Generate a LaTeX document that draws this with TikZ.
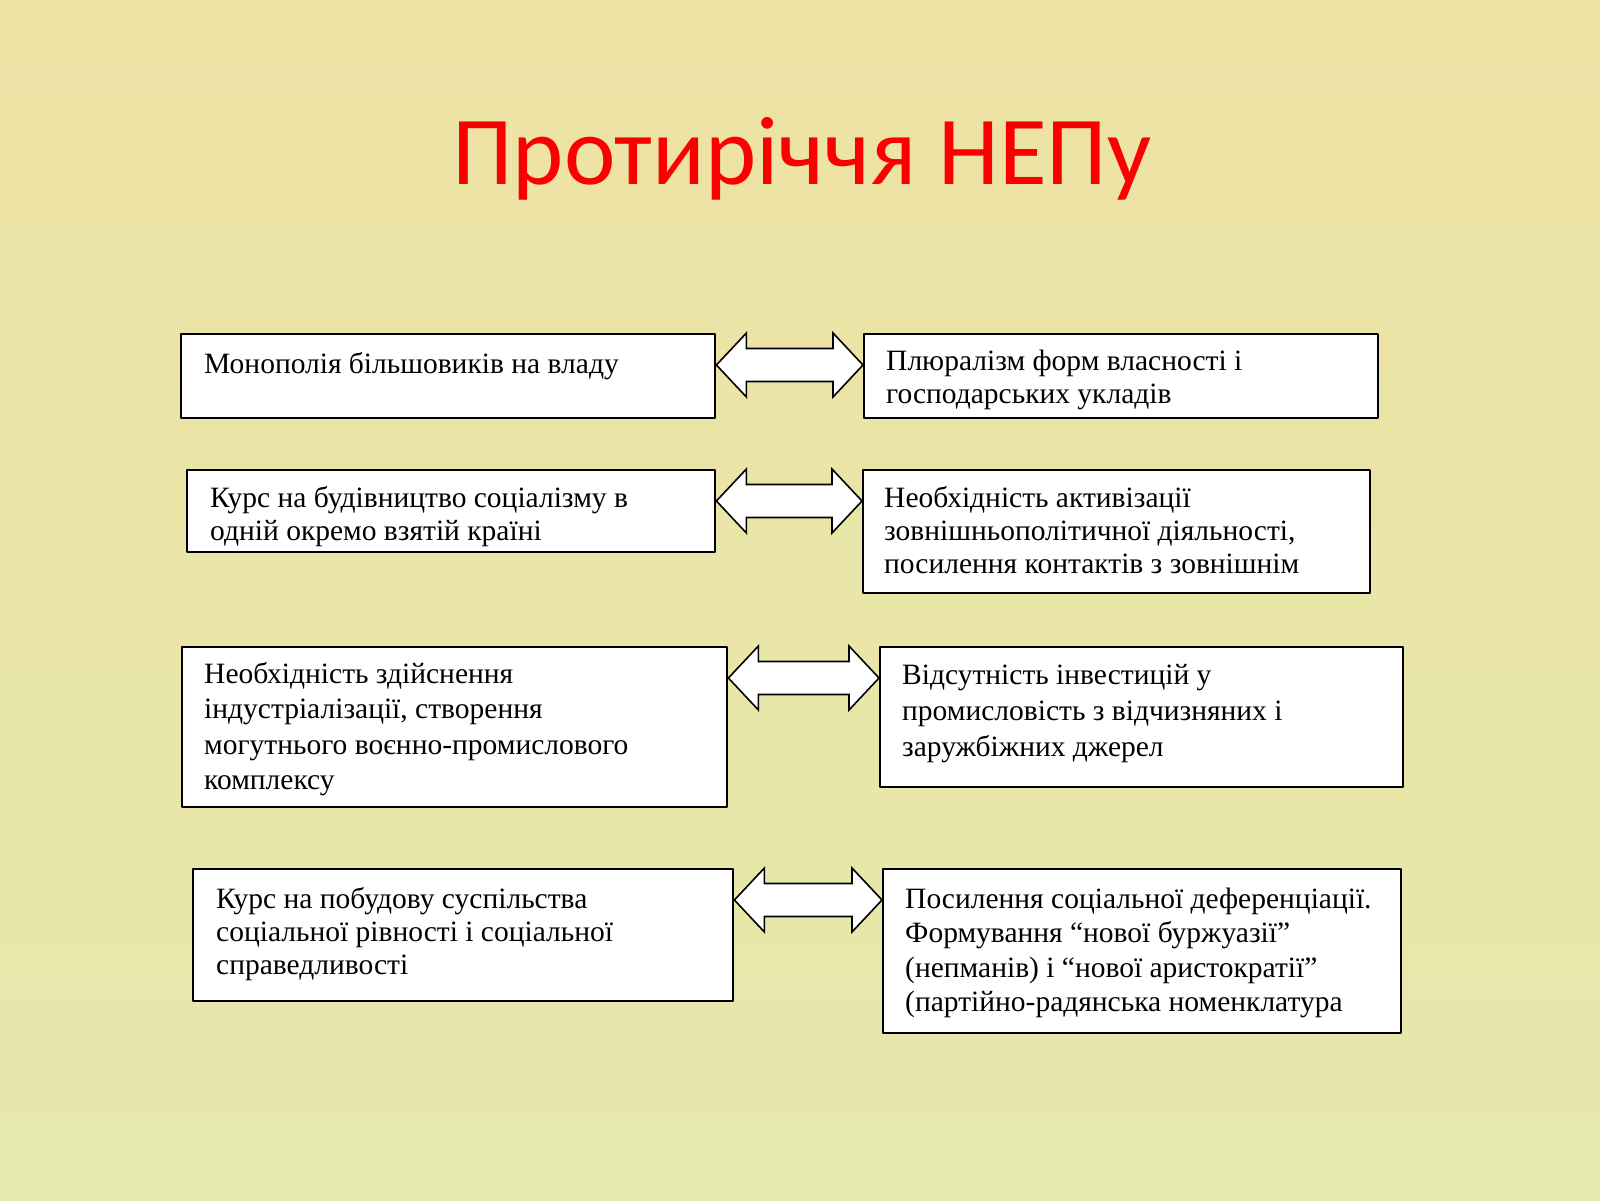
\documentclass[tikz,border=0pt]{standalone}
\usepackage{fontspec}
\setmainfont{Liberation Serif}
\newfontfamily\titlefont{Carlito}
\usetikzlibrary{calc}
\definecolor{TitleRed}{RGB}{250,0,0}
\definecolor{BgTop}{RGB}{238,226,164}
\definecolor{BgBottom}{RGB}{229,233,172}
\newcommand{\BoxLine}{black}
% lines of a box, first baseline is the base of the node
\newcommand{\lines}[1]{\parbox[t]{520pt}{\raggedright #1}}
% double arrow between two boxes, at the height of their top part
\newcommand{\twoway}[2]{%
  \draw [biarrow] let \p1=([yshift=-32pt]#1.north east), \p2=(#2.west) in
  (\x1,\y1) -- (\x1+30pt,\y1+32pt) -- (\x1+30pt,\y1+16.5pt) -- (\x2-30pt,\y1+16.5pt)
  -- (\x2-30pt,\y1+32pt) -- (\x2,\y1) -- (\x2-30pt,\y1-32pt) -- (\x2-30pt,\y1-16.5pt)
  -- (\x1+30pt,\y1-16.5pt) -- (\x1+30pt,\y1-32pt) -- cycle;}

\begin{document}
\begin{tikzpicture}[line cap=round,line join=round,x=1pt,y=-1pt
  ,box/.style={draw=\BoxLine,fill=white,line width=2.4pt,inner sep=0pt,anchor=north west}
  ,txt/.style={anchor=base west,inner sep=0pt,font=\fontsize{29.5}{33}\selectfont}
  ,biarrow/.style={draw=\BoxLine,fill=white,line width=1.6pt,line join=miter}]
  \shade [top color=BgTop,bottom color=BgBottom] (0,0) rectangle (1600,1200);
  \useasboundingbox (0,0) rectangle (1600,1200);
  \node [font=\titlefont\fontsize{97.5}{117}\selectfont,text=TitleRed,anchor=base] (title) at (802,184) {Протиріччя НЕПу};
  \node [box,minimum width=534,minimum height=84] (mono) at (180,333) {};
  \node [box,minimum width=514,minimum height=84] (plur) at (863,333) {};
  \node [box,minimum width=528,minimum height=82] (kurs) at (186,469) {};
  \node [box,minimum width=507,minimum height=123] (zovn) at (862,469) {};
  \node [box,minimum width=545,minimum height=160] (indu) at (181,646) {};
  \node [box,minimum width=523,minimum height=140] (inve) at (879,646) {};
  \node [box,minimum width=540,minimum height=132] (rivn) at (192,868) {};
  \node [box,minimum width=518,minimum height=164] (dyfe) at (882,868) {};
  \twoway{mono}{plur}
  \twoway{kurs}{zovn}
  \twoway{indu}{inve}
  \twoway{rivn}{dyfe}
  \node [txt] at ([shift={(24,40)}]mono.north west) {\lines{Монополія більшовиків на владу}};
  \node [txt] at ([shift={(23,37)}]plur.north west) {\lines{Плюралізм форм власності і\\господарських укладів}};
  \node [txt] at ([shift={(24,38)}]kurs.north west) {\lines{Курс на будівництво соціалізму в\\одній окремо взятій країні}};
  \node [txt] at ([shift={(22,38)}]zovn.north west) {\lines{Необхідність активізації\\зовнішньополітичної діяльності,\\посилення контактів з зовнішнім}};
  \node [txt,font=\fontsize{29.5}{35.5}\selectfont] at ([shift={(23,37)}]indu.north west) {\lines{Необхідність здійснення\\індустріалізації, створення\\могутнього воєнно-промислового\\комплексу}};
  \node [txt,font=\fontsize{29.5}{36}\selectfont] at ([shift={(23,38)}]inve.north west) {\lines{Відсутність інвестицій у\\промисловість з відчизняних і\\заружбіжних джерел}};
  \node [txt] at ([shift={(24,40)}]rivn.north west) {\lines{Курс на побудову суспільства\\соціальної рівності і соціальної\\справедливості}};
  \node [txt,font=\fontsize{29.5}{34.5}\selectfont] at ([shift={(23,40)}]dyfe.north west) {\lines{Посилення соціальної деференціації.\\Формування “нової буржуазії”\\(непманів) і “нової аристократії”\\(партійно-радянська номенклатура}};
\end{tikzpicture}
\end{document}
